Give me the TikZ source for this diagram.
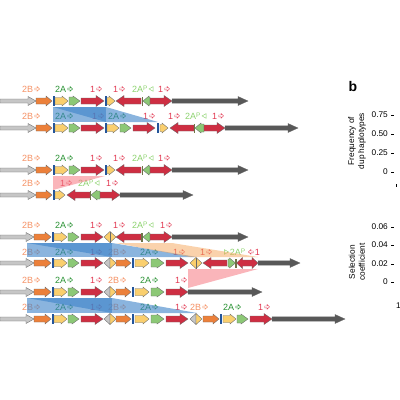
\documentclass[tikz,border=0pt]{standalone}
\usepackage{fontspec}
\setmainfont{Liberation Sans}
\definecolor{cgray}{RGB}{198,198,198}
\definecolor{corange}{RGB}{236,128,58}
\definecolor{cyellow}{RGB}{250,207,110}
\definecolor{cgreen}{RGB}{140,200,118}
\definecolor{cred}{RGB}{206,46,66}
\definecolor{cdark}{RGB}{88,88,88}
\definecolor{cblue}{RGB}{35,85,155}
\definecolor{colive}{RGB}{110,115,70}
\definecolor{outl}{RGB}{105,105,105}
\definecolor{bandblue}{RGB}{60,130,200}
\definecolor{bandpink}{RGB}{245,120,130}
\definecolor{bandpeach}{RGB}{245,165,90}
\definecolor{t2B}{RGB}{245,145,100}
\definecolor{t2A}{RGB}{40,145,50}
\definecolor{t1}{RGB}{225,55,80}
\definecolor{t2AP}{RGB}{140,210,110}
\tikzset{
  gene/.style={draw=outl,line width=0.35pt,line join=miter},
  lab/.style={anchor=west,inner sep=0pt,font=\fontsize{9}{9}\selectfont},
  axl/.style={inner sep=0pt,font=\fontsize{8.3}{9}\selectfont},
  blueband/.style={fill=bandblue,opacity=0.6},
  pinkband/.style={fill=bandpink,opacity=0.55},
  peachband/.style={fill=bandpeach,opacity=0.5}
}
% generic arrows: x1 x2 y fill bodyhalf headhalf headlen
\newcommand{\gR}[7]{\draw[gene,fill=#4] (#1,{#3-#5}) -- ({#2-#7},{#3-#5}) -- ({#2-#7},{#3-#6}) -- (#2,#3) -- ({#2-#7},{#3+#6}) -- ({#2-#7},{#3+#5}) -- (#1,{#3+#5}) -- cycle;}
\newcommand{\gL}[7]{\draw[gene,fill=#4] (#2,{#3-#5}) -- ({#1+#7},{#3-#5}) -- ({#1+#7},{#3-#6}) -- (#1,#3) -- ({#1+#7},{#3+#6}) -- ({#1+#7},{#3+#5}) -- (#2,{#3+#5}) -- cycle;}
\newcommand{\gGray}[3]{\gR{#1}{#2}{#3}{cgray}{2}{4.5}{8}}
\newcommand{\gOra}[3]{\gR{#1}{#2}{#3}{corange}{3}{5}{6}}
\newcommand{\gYel}[3]{\gR{#1}{#2}{#3}{cyellow}{3.5}{5}{6}}
\newcommand{\gGrn}[3]{\gR{#1}{#2}{#3}{cgreen}{4}{5}{7}}
\newcommand{\gGrnL}[3]{\gL{#1}{#2}{#3}{cgreen}{4}{5}{6}}
\newcommand{\gRed}[3]{\gR{#1}{#2}{#3}{cred}{3}{5.5}{8}}
\newcommand{\gRedL}[3]{\gL{#1}{#2}{#3}{cred}{3}{5.5}{8}}
\newcommand{\gDk}[3]{\gR{#1}{#2}{#3}{cdark}{2.2}{4.5}{10}}
\newcommand{\gBlue}[2]{\fill[cblue] ({#1-0.8},{#2-5}) rectangle ({#1+0.8},{#2+5});}
\newcommand{\gSb}[2]{\fill[colive] ({#1-0.6},{#2-4.5}) rectangle ({#1+0.6},{#2+4.5});}
\newcommand{\gRedLR}[3]{\draw[gene,fill=cred] (#1,#3) -- ({#1+6},{#3-5.5}) -- ({#1+6},{#3-3}) -- ({#2-6},{#3-3}) -- ({#2-6},{#3-5.5}) -- (#2,#3) -- ({#2-6},{#3+5.5}) -- ({#2-6},{#3+3}) -- ({#1+6},{#3+3}) -- ({#1+6},{#3+5.5}) -- cycle;}
\newcommand{\gDia}[3]{\draw[gene,fill=cyellow] (#1,#3) -- ({(#1+#2)/2},{#3-5.5}) -- (#2,#3) -- ({(#1+#2)/2},{#3+5.5}) -- cycle;
  \draw[gene] ({(#1+#2)/2},{#3-5.5}) -- ({(#1+#2)/2},{#3+5.5});}
\newcommand{\gDiaS}[3]{\draw[gene,fill=cgray] (#1,#3) -- ({(#1+#2)/2},{#3-5.5}) -- ({(#1+#2)/2},{#3+5.5}) -- cycle;
  \draw[gene,fill=cyellow] (#2,#3) -- ({(#1+#2)/2},{#3-5.5}) -- ({(#1+#2)/2},{#3+5.5}) -- cycle;}
% small label symbols
\newcommand{\symR}[1]{\hspace{1.3pt}\tikz[baseline={(0,-3.2pt)},x=1pt,y=1pt]\draw[#1,line width=0.45pt,line join=miter] (0,-0.9)--(2.4,-0.9)--(2.4,-2.3)--(4.8,0)--(2.4,2.3)--(2.4,0.9)--(0,0.9)--cycle;}
\newcommand{\symL}[1]{\tikz[baseline={(0,-3.2pt)},x=1pt,y=1pt]\draw[#1,line width=0.45pt,line join=miter] (4.8,-0.9)--(2.4,-0.9)--(2.4,-2.3)--(0,0)--(2.4,2.3)--(2.4,0.9)--(4.8,0.9)--cycle;\hspace{1.3pt}}
\newcommand{\symTL}[1]{\hspace{1.3pt}\tikz[baseline={(0,-3.2pt)},x=1pt,y=1pt]\draw[#1,line width=0.45pt,line join=miter] (4,-2.3)--(0,0)--(4,2.3)--cycle;}
\newcommand{\symTR}[1]{\tikz[baseline={(0,-3.2pt)},x=1pt,y=1pt]\draw[#1,line width=0.45pt,line join=miter] (0,-2.3)--(4,0)--(0,2.3)--cycle;\hspace{1.3pt}}
\newcommand{\supP}{\raisebox{1.8pt}{\fontsize{6.5}{6.5}\selectfont P}}
\newcounter{lc}
\newcommand{\lab}[4]{\stepcounter{lc}\node[lab,text=#3] (lab\arabic{lc}) at (#1,#2) {#4};}
\newcommand{\lTB}[2]{\lab{#1}{#2}{t2B}{2B\symR{t2B}}}
\newcommand{\lTA}[2]{\lab{#1}{#2}{t2A}{2A\symR{t2A}}}
\newcommand{\lOne}[2]{\lab{#1}{#2}{t1}{1\symR{t1}}}
\newcommand{\lAP}[2]{\lab{#1}{#2}{t2AP}{2A\supP\symTL{t2AP}}}
% row of type A
\newcommand{\rowA}[1]{\gGray{0}{36}{#1}\gOra{36}{52}{#1}\gBlue{53.8}{#1}\gYel{55}{68}{#1}\gGrn{69}{80}{#1}\gRed{81}{104}{#1}\gBlue{106}{#1}\gYel{107}{115}{#1}\gRedL{116}{141}{#1}\gSb{142.3}{#1}\gGrnL{143}{150}{#1}\gRed{150}{172}{#1}\gDk{172}{248}{#1}}
\newcommand{\labA}[1]{\lTB{22}{#1}\lTA{55}{#1}\lOne{90}{#1}\lOne{113}{#1}\lAP{132}{#1}\lOne{158}{#1}}
% start of group-3 rows
\newcommand{\rowS}[1]{\gGray{0}{34}{#1}\gOra{34}{51}{#1}\gBlue{53}{#1}\gYel{54}{67}{#1}\gGrn{68}{79}{#1}\gRed{81}{103}{#1}}
\newcommand{\rowU}[1]{\rowS{#1}\gDiaS{104}{116}{#1}\gOra{116}{131}{#1}\gBlue{133}{#1}\gYel{135}{149}{#1}\gGrn{151}{164}{#1}\gRed{166}{188}{#1}}
\newcommand{\labU}[1]{\lTB{22}{#1}\lTA{55}{#1}\lOne{90}{#1}\lTB{108}{#1}\lTA{140}{#1}}
\begin{document}
\begin{tikzpicture}[x=1pt,y=-1pt]
\useasboundingbox (0,0) rectangle (400,400);
% ---------- labels ----------
\labA{89}
\lTB{22}{116}\lTA{55}{116}\lOne{92}{116}\lTA{108}{116}\lOne{143}{116}\lOne{168}{116}\lAP{185}{116}\lOne{212}{116}
\labA{158}
\lTB{22}{183}\lOne{60}{183}\lAP{78}{183}\lOne{106}{183}
\lTB{22}{225}\lTA{55}{225}\lOne{90}{225}\lOne{113}{225}\lAP{132}{225}\lOne{160}{225}
\labU{252}\lOne{173}{252}\lOne{200}{252}
\lab{224}{252}{t2AP}{\symTR{t2AP}2A\supP}
\lab{248}{252}{t1}{\symL{t1}1}
\labU{280}\lOne{175}{280}
\labU{307}\lOne{175}{307}\lTB{190}{307}\lTA{223}{307}\lOne{258}{307}
% ---------- bands ----------
\fill[blueband] (53,107) rectangle (106,122);
\fill[blueband] (53,107) -- (106,107) -- (158,122) -- (106,122) -- cycle;
\fill[pinkband] (53,176) -- (105,176) -- (53,190) -- cycle;
\fill[blueband] (27,243) rectangle (112,257);
\fill[blueband] (27,243) -- (112,243) -- (197,257) -- (112,257) -- cycle;
\fill[peachband] (116,243) -- (172,243) -- (258,257) -- (190,257) -- cycle;
\fill[pinkband] (188,269) -- (258,269) -- (188,288) -- cycle;
\fill[blueband] (27,298) rectangle (112,313);
\fill[blueband] (27,298) -- (112,298) -- (197,313) -- (112,313) -- cycle;
% ---------- genes ----------
\rowA{101}
\gGray{0}{36}{128}\gOra{36}{52}{128}\gBlue{53.8}{128}\gYel{55}{68}{128}\gGrn{69}{80}{128}\gRed{81}{104}{128}\gBlue{106}{128}\gYel{107}{119}{128}\gGrn{120}{131}{128}\gRed{133}{155}{128}\gBlue{158}{128}\gYel{160}{168}{128}\gRedL{170}{194}{128}\gSb{194.6}{128}\gGrnL{195}{204}{128}\gRed{204}{225}{128}\gDk{225}{298}{128}
\rowA{170}
\gGray{0}{36}{195}\gOra{36}{52}{195}\gBlue{53.8}{195}\gYel{55}{65}{195}\gRedL{67}{90}{195}\gSb{90.6}{195}\gGrnL{91}{100}{195}\gRed{100}{120}{195}\gDk{120}{193}{195}
\rowS{237}\gDia{104}{116}{237}\gRedL{116}{141}{237}\gSb{142}{237}\gGrnL{143}{150}{237}\gRed{150}{172}{237}\gDk{172}{248}{237}
\rowU{263}\gDia{190}{202}{263}\gRedL{203}{227}{263}\gR{228}{235.5}{263}{cgreen}{4}{5}{6}\gSb{236}{263}\gRedLR{236.5}{258}{263}\gDk{258}{300}{263}
\rowU{292}\gDk{188}{262}{292}
\rowU{319}\gDiaS{190}{202}{319}\gOra{203}{219}{319}\gBlue{221}{319}\gYel{223}{236}{319}\gGrn{237}{248}{319}\gRed{250}{272}{319}\gDk{272}{345}{319}
% ---------- panel b ----------
\node[inner sep=0pt,font=\fontsize{14}{14}\bfseries] (pb) at (353,86) {b};
\node[rotate=90,align=center,inner sep=0pt,font=\fontsize{8.3}{10}\selectfont] (yl1) at (357,141) {Frequency of\\dup haplotypes};
\node[axl,anchor=east] (t075) at (388,115) {0.75};
\node[axl,anchor=east] (t050) at (388,134) {0.50};
\node[axl,anchor=east] (t025) at (388,153) {0.25};
\node[axl,anchor=east] (t000) at (388,172) {0};
\foreach \yy in {115,134,153,172} \draw[line width=0.4pt] (391,\yy) -- (394,\yy);
\draw[line width=0.4pt] (396,184) -- (396,187);
\node[rotate=90,align=center,inner sep=0pt,font=\fontsize{8.3}{10}\selectfont] (yl2) at (357,262) {Selection\\coefficient};
\node[axl,anchor=east] (s006) at (388,227) {0.06};
\node[axl,anchor=east] (s004) at (388,245) {0.04};
\node[axl,anchor=east] (s002) at (388,264) {0.02};
\node[axl,anchor=east] (s000) at (388,282) {0};
\foreach \yy in {227,245,264,282} \draw[line width=0.4pt] (391,\yy) -- (394,\yy);
\node[axl,anchor=west] (x1) at (396,306) {1};
\end{tikzpicture}
\end{document}
